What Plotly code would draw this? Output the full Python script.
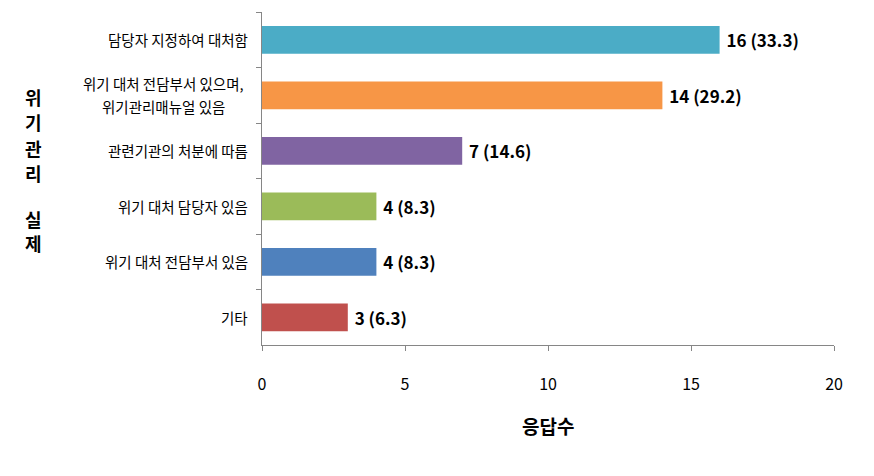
import plotly.graph_objects as go

categories = [
    "담당자 지정하여 대처함",
    "위기 대처 전담부서 있으며,<br>위기관리매뉴얼 있음",
    "관련기관의 처분에 따름",
    "위기 대처 담당자 있음",
    "위기 대처 전담부서 있음",
    "기타",
]
counts = [16, 14, 7, 4, 4, 3]
percents = [33.3, 29.2, 14.6, 8.3, 8.3, 6.3]
colors = ["#4BACC6", "#F79646", "#8064A2", "#9BBB59", "#4F81BD", "#C0504D"]
x_ticks = [0, 5, 10, 15, 20]
x_title = "응답수"
y_title_chars = ["위", "기", "관", "리", "", "실", "제"]

FONT = "Noto Sans CJK KR, Malgun Gothic, sans-serif"

labels = [f" {c} ({p})" for c, p in zip(counts, percents)]

fig = go.Figure(
    go.Bar(
        y=categories,
        x=counts,
        orientation="h",
        marker=dict(color=colors, line=dict(width=0)),
        width=0.5,
        text=labels,
        textposition="outside",
        textfont=dict(size=17, color="#000000", family=FONT, weight="bold"),
        cliponaxis=False,
        hoverinfo="skip",
    )
)

fig.update_layout(
    width=874,
    height=476,
    margin=dict(l=262, r=40, t=12, b=131),
    plot_bgcolor="white",
    paper_bgcolor="white",
    showlegend=False,
    font=dict(family=FONT, color="#000000"),
)

fig.update_xaxes(
    range=[0, 20],
    tickvals=x_ticks,
    ticktext=[str(v) for v in x_ticks],
    showgrid=False,
    zeroline=False,
    showline=True,
    linecolor="#868686",
    linewidth=1,
    ticks="outside",
    ticklen=5,
    tickcolor="#868686",
    tickfont=dict(size=16, color="#000000", family=FONT),
    ticklabelstandoff=20,
)

fig.update_yaxes(
    type="category",
    categoryorder="array",
    categoryarray=categories,
    autorange="reversed",
    showgrid=False,
    zeroline=False,
    showline=True,
    linecolor="#868686",
    linewidth=1,
    ticks="outside",
    tickson="boundaries",
    ticklen=5,
    tickcolor="#868686",
    showticklabels=False,
)

annotations = []
LINE_GAP = 23
for c in categories:
    lines = c.split("<br>")
    n = len(lines)
    for i, ln in enumerate(lines):
        annotations.append(
            dict(
                x=0, xref="paper", y=c, yref="y",
                text=ln, showarrow=False,
                xanchor="center" if n > 1 else "right", yanchor="middle",
                xshift=(-12 - 87) if n > 1 else -12,
                yshift=((n - 1) / 2 - i) * LINE_GAP,
                font=dict(size=14.5, color="#000000", family=FONT),
            )
        )

annotations.append(
    dict(
        x=0.5, xref="paper", y=0, yref="paper",
        text=f"<b>{x_title}</b>", showarrow=False,
        xanchor="center", yanchor="middle", yshift=-80,
        font=dict(size=19, color="#000000", family=FONT),
    )
)

# vertical stacked y-axis title
char_pixel_y = [97, 122, 148, 173, None, 219, 243]
for ch, py in zip(y_title_chars, char_pixel_y):
    if not ch:
        continue
    annotations.append(
        dict(
            x=0, xref="paper", y=(345 - py) / 333, yref="paper",
            text=f"<b>{ch}</b>", showarrow=False,
            xanchor="center", yanchor="middle", xshift=-229,
            font=dict(size=18, color="#000000", family=FONT),
        )
    )
fig.update_layout(annotations=annotations)

fig.write_html("out.html")
